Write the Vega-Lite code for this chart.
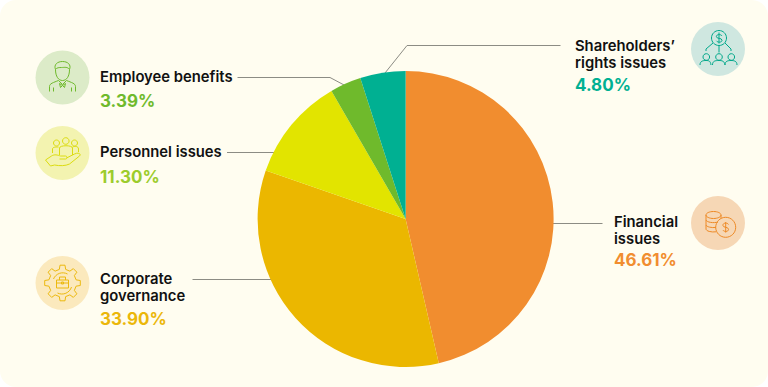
{
"$schema":"https://vega.github.io/schema/vega-lite/v6.json",
"width":768,"height":387,
"padding":0,
"autosize":{"type":"none"},
"background":"#ffffff",
"config":{"view":{"fill":"#fffdf0","stroke":null,"cornerRadius":16}},
"datasets":{
"shares":[
{"rank":1,"category":"Financial issues","label":"Financial\nissues","pct":"46.61%","share":46.4},
{"rank":2,"category":"Corporate governance","label":"Corporate\ngovernance","pct":"33.90%","share":33.9},
{"rank":3,"category":"Personnel issues","label":"Personnel issues","pct":"11.30%","share":11.35},
{"rank":4,"category":"Employee benefits","label":"Employee benefits","pct":"3.39%","share":3.4},
{"rank":5,"category":"Shareholders’ rights issues","label":"Shareholders’\nrights issues","pct":"4.80%","share":4.95}
],
"leaders":[
{"rank":1,"vertex":0},{"rank":1,"vertex":1},
{"rank":2,"vertex":0},{"rank":2,"vertex":1},
{"rank":3,"vertex":0},{"rank":3,"vertex":1},
{"rank":4,"vertex":0},{"rank":4,"vertex":1},{"rank":4,"vertex":2},
{"rank":5,"vertex":0},{"rank":5,"vertex":1},{"rank":5,"vertex":2}
]},
"encoding":{
"x":{"field":"px","type":"quantitative","axis":null,"scale":{"domain":[0,768],"nice":false,"zero":false}},
"y":{"field":"py","type":"quantitative","axis":null,"scale":{"domain":[387,0],"nice":false,"zero":false}}
},
"layer":[
{"data":{"name":"leaders"},
 "transform":[
 {"calculate":"[[553,602.5],[192.5,272],[227,276],[237.5,330,345],[560.5,407,385]][datum.rank-1][datum.vertex]","as":"px"},
 {"calculate":"[[223.5,223.5],[279.5,279.5],[152.5,152.5],[77.5,77.5,85.5],[45.5,45.5,73]][datum.rank-1][datum.vertex]","as":"py"}],
 "mark":{"type":"line","color":"#8c8c84","strokeWidth":1},
 "encoding":{"detail":{"field":"rank"},"order":{"field":"vertex"}}},
{"data":{"name":"shares"},
 "transform":[{"calculate":"405.6","as":"px"},{"calculate":"219","as":"py"}],
 "mark":{"type":"arc","outerRadius":148,"innerRadius":0},
 "encoding":{
 "theta":{"field":"share","type":"quantitative"},
 "order":{"field":"rank"},
 "color":{"field":"category","type":"nominal","legend":null,
  "scale":{"domain":["Financial issues","Corporate governance","Personnel issues","Employee benefits","Shareholders’ rights issues"],"range":["#f18d2f","#ebb700","#e2e400","#6fba2c","#00b092"]}}}},
{"data":{"name":"shares"},
 "transform":[
 {"calculate":"[718,62.5,62.5,62.5,718][datum.rank-1]","as":"px"},
 {"calculate":"[223,283,153,77.5,49][datum.rank-1]","as":"py"}],
 "mark":{"type":"point","shape":"circle","filled":true,"size":2916,"opacity":1,"strokeWidth":0},
 "encoding":{"fill":{"field":"category","type":"nominal","legend":null,
  "scale":{"domain":["Financial issues","Corporate governance","Personnel issues","Employee benefits","Shareholders’ rights issues"],"range":["#f6d7b5","#fbe9bd","#f3f3b0","#dcebc8","#cfe7e0"]}}}},
{"data":{"name":"shares"},
 "transform":[
 {"calculate":"[718,62.5,62.5,62.5,718][datum.rank-1]","as":"px"},
 {"calculate":"[223,283,153,77.5,49][datum.rank-1]","as":"py"}],
 "mark":{"type":"point","filled":false,"fillOpacity":0,"size":4,"opacity":1,"strokeWidth":1},
 "encoding":{
 "stroke":{"field":"category","type":"nominal","legend":null,
  "scale":{"domain":["Financial issues","Corporate governance","Personnel issues","Employee benefits","Shareholders’ rights issues"],"range":["#ee8a26","#ecb90f","#dcdc10","#6fba2c","#00a88a"]}},
 "shape":{"field":"category","type":"nominal","legend":null,
  "scale":{"domain":["Financial issues","Corporate governance","Personnel issues","Employee benefits","Shareholders’ rights issues"],
  "range":[
  "M-12,-8a7.5,3.5 0 1,0 15,0a7.5,3.5 0 1,0 -15,0M-12,-8V6a7.5,3 0 0 0 10,2.8M-12,-3a7.5,3 0 0 0 12,2M-12,2a7.5,3 0 0 0 10,2.4M3,-8V-4.5M17.7,4.3a10,10 0 1,0 -20,0a10,10 0 1,0 20,0M10.5,1.5c-1,-2 -5.6,-2 -5.6,.8c0,2.8 5.6,1.2 5.6,4c0,2.8 -4.6,2.6 -5.6,.8M7.7,-1V9.6",
  "M-3.15,-13.6L-2.5,-17.8L2.5,-17.8L3.15,-13.6L7.39,-11.85L10.82,-14.36L14.36,-10.82L11.85,-7.39L13.6,-3.15L17.8,-2.5L17.8,2.5L13.6,3.15L11.85,7.39L14.36,10.82L10.82,14.36L7.39,11.85L3.15,13.6L2.5,17.8L-2.5,17.8L-3.15,13.6L-7.39,11.85L-10.82,14.36L-14.36,10.82L-11.85,7.39L-13.6,3.15L-17.8,2.5L-17.8,-2.5L-13.6,-3.15L-11.85,-7.39L-14.36,-10.82L-10.82,-14.36L-7.39,-11.85ZM-9,-4a10,10 0 0 1 14,-5M9,4a10,10 0 0 1 -14,6M-6,-3H6V5H-6ZM-3,-3V-6H3V-3M-6,0H6M-1,-1H1V1H-1Z",
  "M-17,7L-11,3C-8,1 -5,2 -2,3H3C5,3 5,6 3,6H-3M4,5L12,1C16,-1 19,1 17,3L7,11C3,13 -3,13 -8,12L-12,13M-17,7L-12,13M-9,-10a3,3 0 1,0 6,0a3,3 0 1,0 -6,0M0,-12a3.3,3.3 0 1,0 6.6,0a3.3,3.3 0 1,0 -6.6,0M9,-10a3,3 0 1,0 6,0a3,3 0 1,0 -6,0M-10,0V-4C-10,-6 -7,-6 -4,-6M-3,2V-5C-3,-8 10,-8 10,-5V2M10,-6C12,-7 16,-7 16,-4V-1",
  "M-7,-8C-7,-1 -4,3 0,3C4,3 7,-1 7,-8M-7,-8C-9,-13 -5,-16 0,-16C5,-16 9,-13 7,-8C5,-11 2,-10 -1,-10C-3,-10 -6,-10 -7,-8M-13,14V9C-13,6 -9,5 -4,3L0,7L4,3C9,5 13,6 13,9V14M-3,6L0,8L3,6L2,10L0,8L-2,10ZM-9,10V14M9,10V14",
  "M8.5,-11a7.5,7.5 0 1,0 -15,0a7.5,7.5 0 1,0 15,0M4,-13c-1,-2 -5.6,-2 -5.6,.6c0,2.6 5.6,1 5.6,3.6c0,2.6 -4.6,2.4 -5.6,.6M1,-16.5V-5.5M1,-3.5V3.5M-5,-6L-12,0V2M7,-6L13,0V2M-15,8a3.3,3.3 0 1,0 6.6,0a3.3,3.3 0 1,0 -6.6,0M-2.3,8a3.3,3.3 0 1,0 6.6,0a3.3,3.3 0 1,0 -6.6,0M10,8a3.3,3.3 0 1,0 6.6,0a3.3,3.3 0 1,0 -6.6,0M-18,16C-18,12 -15,11.5 -12,11.5C-9,11.5 -7.5,12 -7,16M-5.5,16C-5.5,12 -3,11.5 1,11.5C4,11.5 6.5,12 7,16M7,16C7,12 10,11.5 13,11.5C16,11.5 19,12 19,16"
  ]}}}},
{"data":{"name":"shares"},
 "transform":[
 {"calculate":"[614,100,100,100,575][datum.rank-1]","as":"px"},
 {"calculate":"[227,284,157,82,51][datum.rank-1]","as":"py"}],
 "mark":{"type":"text","align":"left","baseline":"alphabetic","font":"Inter","fontSize":14.8,"fontWeight":600,"lineBreak":"\n","lineHeight":16.5,"color":"#111111"},
 "encoding":{"text":{"field":"label"}}},
{"data":{"name":"shares"},
 "transform":[
 {"calculate":"[614,100,100,100,575][datum.rank-1]","as":"px"},
 {"calculate":"[266,325,183,107,91][datum.rank-1]","as":"py"}],
 "mark":{"type":"text","align":"left","baseline":"alphabetic","font":"Inter","fontSize":17,"fontWeight":700},
 "encoding":{"text":{"field":"pct"},
 "color":{"field":"category","type":"nominal","legend":null,
  "scale":{"domain":["Financial issues","Corporate governance","Personnel issues","Employee benefits","Shareholders’ rights issues"],"range":["#f18d2f","#ebb70a","#9ccc2c","#6fba2c","#00b092"]}}}}
],
"resolve":{"scale":{"color":"independent","fill":"independent","stroke":"independent"}}
}
